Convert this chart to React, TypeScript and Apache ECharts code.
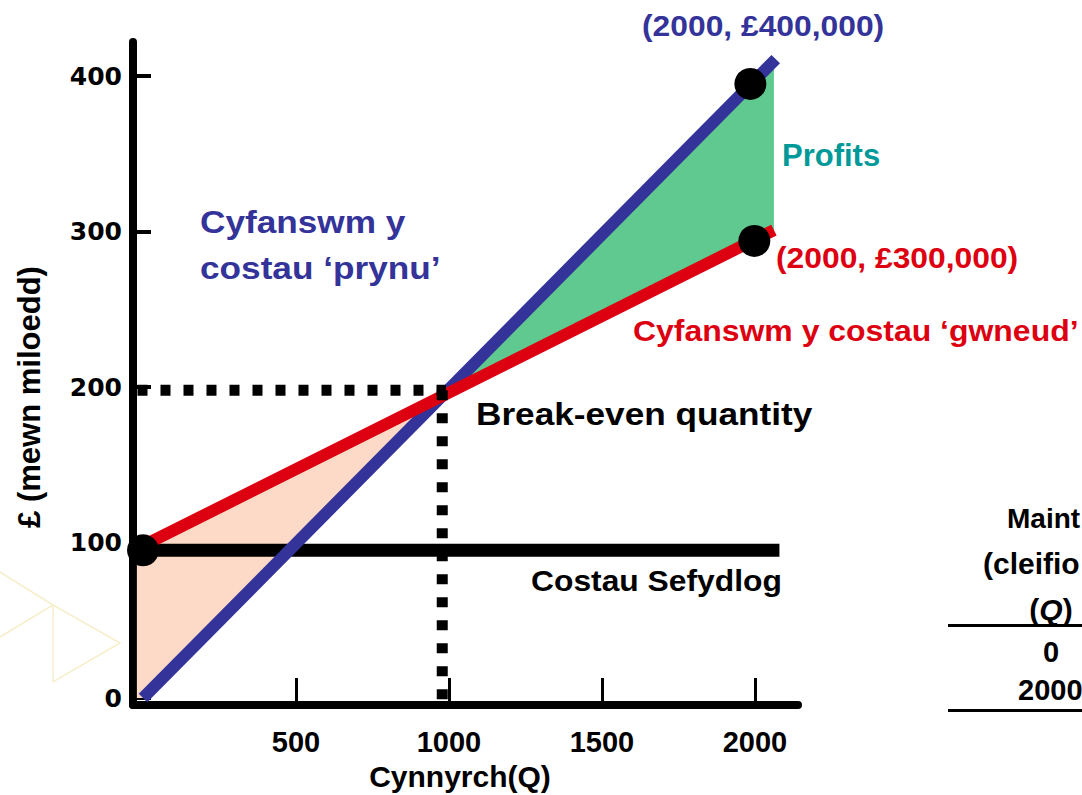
import React, { useEffect, useRef } from "react";
import * as echarts from "echarts";

// ---- data ----
const X_TICKS = [500, 1000, 1500, 2000];
const Y_TICKS = [0, 100, 200, 300, 400];

const BUY_Q = [0, 2068];
const BUY_COST = [0, 411]; // Cyfanswm y costau 'prynu'
const MAKE_Q = [0, 2062];
const MAKE_COST = [98, 301]; // Cyfanswm y costau 'gwneud'
const FIXED_Q = [0, 2080];
const FIXED_COST = [95, 95]; // Costau Sefydlog

const BREAK_EVEN_Q = 978;
const BREAK_EVEN_COST = 198;
const DOTTED_H = [[-18, BREAK_EVEN_COST], [990, BREAK_EVEN_COST]];
const DOTTED_V = [[BREAK_EVEN_Q, BREAK_EVEN_COST], [BREAK_EVEN_Q, -4.5]];

const LOSS_AREA = [[-20, 0], [-20, 97], [0, 98], [977, 194], [0, 0]];
const PROFIT_AREA = [[977, 194], [2062, 409], [2062, 300]];
const KEY_POINTS = [[0, 95], [1985, 395], [1998, 294]];

const X_MIN = -32.7;
const X_MAX = 2140.7;
const Y_MIN = -4.5;
const Y_MAX = 422;

const BLUE = "#333399";
const RED = "#DD0011";
const PINK = "#FDDAC8";
const GREEN = "#5FC98F";
const TEAL = "#009999";
const SANS = '"Liberation Sans", Arial, Helvetica, sans-serif';

const zip = (qs: number[], vs: number[]) => qs.map((q, i) => [q, vs[i]]);

function txt(text: string, x: number, y: number, size: number, color: string, scaleX = 1, align = "left") {
  return {
    type: "text",
    x,
    y,
    scaleX,
    z: 100,
    style: {
      text,
      fill: color,
      font: `bold ${size}px ${SANS}`,
      textAlign: align,
      textVerticalAlign: "middle",
    },
  };
}

export default function App() {
  const ref = useRef<HTMLDivElement>(null);

  useEffect(() => {
    if (!ref.current) return;
    const chart = echarts.init(ref.current, undefined, { renderer: "svg" });

    const polygonSeries = (pts: number[][], color: string, z: number) => ({
      type: "custom",
      silent: true,
      z,
      data: [pts[0]],
      renderItem: (_p: any, api: any) => ({
        type: "polygon",
        shape: { points: pts.map((p) => api.coord(p)) },
        style: { fill: color },
      }),
    });

    const lineSeries = (data: number[][], color: string, width: number, z: number, type: any = "solid") => ({
      type: "line",
      data,
      symbol: "none",
      silent: true,
      z,
      lineStyle: { color, width, type, cap: "butt" },
    });

    const option: any = {
      animation: false,
      grid: { left: 133, top: 42, width: 665, height: 663, containLabel: false, outerBoundsMode: "none" },
      xAxis: {
        type: "value",
        min: X_MIN,
        max: X_MAX,
        name: "Cynnyrch(Q)",
        nameLocation: "middle",
        nameGap: 56,
        nameTextStyle: { color: "#000", fontSize: 30, fontWeight: "bold", fontFamily: SANS, padding: [0, 11, 0, 0] },
        axisLine: { show: true, onZero: false, lineStyle: { color: "#000", width: 8 } },
        axisTick: { show: true, inside: true, length: 27, lineStyle: { color: "#000", width: 3 }, customValues: X_TICKS },
        axisLabel: {
          customValues: X_TICKS,
          margin: 22,
          color: "#000",
          fontSize: 29,
          fontWeight: "bold",
          fontFamily: SANS,
          formatter: (v: number) => String(v),
        },
        splitLine: { show: false },
      },
      yAxis: {
        type: "value",
        min: Y_MIN,
        max: Y_MAX,
        name: "£ (mewn miloedd)",
        nameLocation: "middle",
        nameRotate: 90,
        nameGap: 88,
        nameTextStyle: { color: "#000", fontSize: 31, fontWeight: "bold", fontFamily: SANS, padding: [0, 47, 0, 0] },
        axisLine: { show: true, onZero: false, lineStyle: { color: "#000", width: 8 } },
        axisTick: { show: true, inside: true, length: 18, lineStyle: { color: "#000", width: 4 }, customValues: Y_TICKS },
        axisLabel: {
          customValues: Y_TICKS,
          margin: 11,
          color: "#000",
          fontSize: 25,
          fontWeight: "bold",
          fontFamily: '"DejaVu Sans", Verdana, sans-serif',
          formatter: (v: number) => String(v),
        },
        splitLine: { show: false },
      },
      series: [
        polygonSeries(LOSS_AREA, PINK, 1),
        polygonSeries(PROFIT_AREA, GREEN, 1),
        lineSeries(zip(FIXED_Q, FIXED_COST), "#000", 13, 3),
        lineSeries(zip(BUY_Q, BUY_COST), BLUE, 12, 4),
        lineSeries(zip(MAKE_Q, MAKE_COST), RED, 12, 5),
        lineSeries(DOTTED_H, "#000", 11, 6, [10, 13]),
        lineSeries(DOTTED_V, "#000", 11, 6, [10, 13]),
        {
          type: "scatter",
          data: KEY_POINTS,
          symbol: "circle",
          symbolSize: 32,
          silent: true,
          z: 7,
          itemStyle: { color: "#000", opacity: 1 },
        },
      ],
      graphic: [
        // faint background decoration
        {
          type: "polyline",
          z: -1,
          shape: { points: [[0, 572], [53, 605], [0, 637]] },
          style: { stroke: "#F6EFCB", lineWidth: 1.5, fill: null },
        },
        {
          type: "polygon",
          z: -1,
          shape: { points: [[53, 605], [120, 643], [53, 682]] },
          style: { stroke: "#F6EFCB", lineWidth: 1.5, fill: "none" },
        },
        txt("(2000, £400,000)", 642, 26, 30, BLUE, 1.06),
        txt("Profits", 782, 155, 31, TEAL, 1.0),
        txt("Cyfanswm y", 200, 222, 32, BLUE, 1.1),
        txt("costau ‘prynu’", 200, 268, 32, BLUE, 1.1),
        txt("(2000, £300,000)", 776, 258, 30, RED, 1.06),
        txt("Cyfanswm y costau ‘gwneud’", 633, 331, 30, RED, 1.065),
        txt("Break-even quantity", 476, 414, 32, "#000", 1.1),
        txt("Costau Sefydlog", 531, 581, 30, "#000", 1.06),
        // partial table at the right edge
        txt("Maint", 1007, 518, 28, "#000", 1.0),
        txt("(cleifio", 983, 563, 30, "#000", 1.0),
        {
          type: "text",
          x: 1051,
          y: 609,
          z: 100,
          style: {
            text: "({q|Q})",
            fill: "#000",
            fontSize: 30,
            fontWeight: "bold",
            fontFamily: SANS,
            textAlign: "center",
            textVerticalAlign: "middle",
            rich: { q: { fontStyle: "italic", fontWeight: "bold", fontSize: 30, fontFamily: SANS, fill: "#000" } },
          },
        },
        txt("0", 1051, 652, 29, "#000", 1.0, "center"),
        txt("2000", 1018, 690, 29, "#000", 1.0),
        { type: "rect", z: 100, shape: { x: 948, y: 624, width: 140, height: 3 }, style: { fill: "#000" } },
        { type: "rect", z: 100, shape: { x: 948, y: 709, width: 140, height: 3 }, style: { fill: "#000" } },
      ],
    };

    chart.setOption(option);
    return () => chart.dispose();
  }, []);

  return (
    <div
      ref={ref}
      style={{ position: "absolute", left: 0, top: 0, width: 1082, height: 795, background: "#fff" }}
    />
  );
}
